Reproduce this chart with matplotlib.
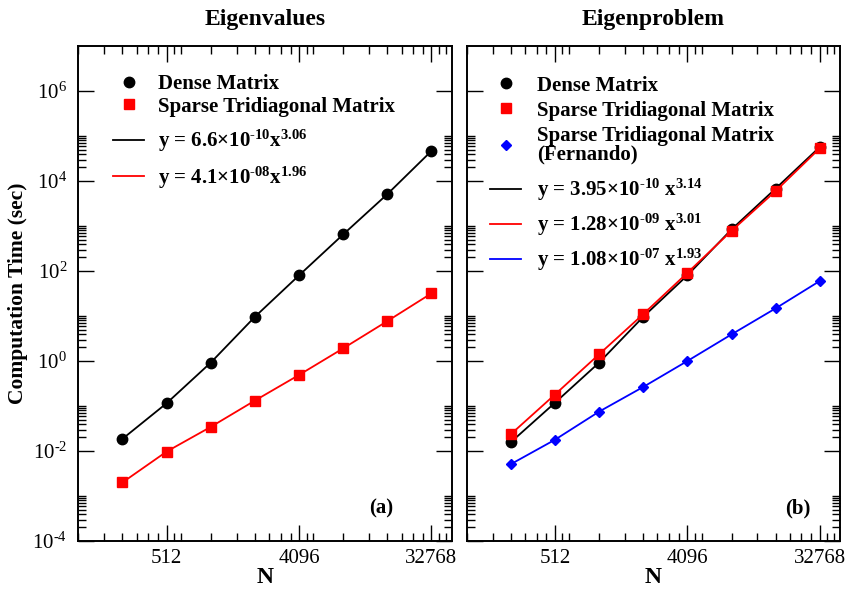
import numpy as np
import matplotlib
matplotlib.use("Agg")
import matplotlib.pyplot as plt
from matplotlib.lines import Line2D
from matplotlib.ticker import FixedLocator, NullFormatter, FixedFormatter

plt.rcParams['font.family'] = ['Liberation Serif', 'DejaVu Serif']
plt.rcParams['mathtext.fontset'] = 'custom'
plt.rcParams['mathtext.rm'] = 'Liberation Serif'
plt.rcParams['mathtext.bf'] = 'Liberation Serif:bold'
plt.rcParams['mathtext.default'] = 'regular'

# ---- data ----
N = [256, 512, 1024, 2048, 4096, 8192, 16384, 32768]

eigval_dense = [0.0186, 0.115, 0.92, 9.6, 80, 650, 5100, 46600]
eigval_sparse = [0.0020, 0.0097, 0.0343, 0.132, 0.49, 1.91, 7.7, 31.9]

eigprob_dense = [0.0157, 0.118, 0.92, 9.6, 80, 840, 6800, 57000]
eigprob_sparse = [0.0236, 0.18, 1.41, 11.0, 91, 780, 6000, 53500]
eigprob_fernando = [0.0051, 0.0178, 0.075, 0.265, 1.0, 3.9, 14.8, 60]

HY = '\u2010'  # short hyphen used in exponents
x_major = [512, 4096, 32768]
x_major_labels = ['512', '4096', '32768']
y_major = [1e-4, 1e-2, 1e0, 1e2, 1e4, 1e6]
y_major_labels = ['10$^{%s4}$' % HY, '10$^{%s2}$' % HY, r'10$^{0}$', r'10$^{2}$',
                  r'10$^{4}$', r'10$^{6}$']

titles = ['Eigenvalues', 'Eigenproblem']
panel_tags = ['(a)', '(b)']
marker_labels_a = ['Dense Matrix', 'Sparse Tridiagonal Matrix']
marker_labels_b = ['Dense Matrix', 'Sparse Tridiagonal Matrix',
                   'Sparse Tridiagonal Matrix\n(Fernando)']
fit_a = ['y = 6.6×10$^{%s10}$x$^{3.06}$' % HY, 'y = 4.1×10$^{%s08}$x$^{1.96}$' % HY]
fit_b = ['y = 3.95×10$^{%s10}$ x$^{3.14}$' % HY, 'y = 1.28×10$^{%s09}$ x$^{3.01}$' % HY,
         'y = 1.08×10$^{%s07}$ x$^{1.93}$' % HY]

XLIM = (128, 45000)
YLIM = (1e-4, 1e7)

W, H = 848, 590
fig = plt.figure(figsize=(W / 100, H / 100), dpi=100)
bottom = (H - 541) / H
height = (541 - 46) / H
ax1 = fig.add_axes([78.3 / W, bottom, (451.7 - 78.3) / W, height])
ax2 = fig.add_axes([466.7 / W, bottom, (840 - 466.7) / W, height])

FS = 15


def minor_list(majors, base, lo, hi):
    out = []
    for m in majors:
        for k in range(2, 11):
            v = m / base * k
            if lo <= v <= hi and all(abs(v - mm) / mm > 1e-9 for mm in majors):
                out.append(v)
    return out


def style(ax, title, tag, tagx):
    ax.set_xscale('log', base=2)
    ax.set_yscale('log')
    ax.set_xlim(*XLIM)
    ax.set_ylim(*YLIM)
    ax.xaxis.set_major_locator(FixedLocator(x_major))
    ax.xaxis.set_major_formatter(FixedFormatter(x_major_labels))
    ax.xaxis.set_minor_locator(FixedLocator(minor_list(x_major, 8, *XLIM)))
    ax.xaxis.set_minor_formatter(NullFormatter())
    ax.yaxis.set_major_locator(FixedLocator(y_major))
    ax.yaxis.set_minor_locator(FixedLocator(minor_list(y_major, 100, *YLIM)))
    ax.yaxis.set_minor_formatter(NullFormatter())
    ax.tick_params(which='both', direction='in', top=True, right=True, width=1.0,
                   labelsize=FS)
    ax.tick_params(which='major', length=11.3)
    ax.tick_params(which='minor', length=5.6)
    ax.tick_params(axis='x', which='major', pad=6)
    ax.tick_params(axis='y', which='major', pad=8)
    for s in ax.spines.values():
        s.set_linewidth(1.4)
    ax.set_title(title, fontsize=17, fontweight='bold', pad=15)
    ax.set_xlabel('N', fontsize=17, fontweight='bold', labelpad=-1)
    ax.text(tagx, 0.065, tag, transform=ax.transAxes, ha='right', va='center',
            fontsize=FS, fontweight='bold')


style(ax1, titles[0], panel_tags[0], 0.843)
style(ax2, titles[1], panel_tags[1], 0.92)
ax1.set_yticklabels(y_major_labels)
ax2.set_yticklabels([])
ax1.set_ylabel('Computation Time (sec)', fontsize=15.5, fontweight='bold')
ax1.yaxis.set_label_coords(-0.135, 0.5)

LW = 1.3
# panel a
ax1.plot(N, eigval_dense, color='black', lw=LW, marker='o', ms=7.5)
ax1.plot(N, eigval_sparse, color='red', lw=LW, marker='s', ms=6.5)
# panel b
ax2.plot(N, eigprob_dense, color='black', lw=LW, marker='o', ms=7.5)
ax2.plot(N, eigprob_fernando, color='blue', lw=LW, marker='D', ms=5)
ax2.plot(N, eigprob_sparse, color='red', lw=LW, marker='s', ms=6.5)

legprop = {'family': 'Liberation Serif', 'weight': 'bold', 'size': FS}
common = dict(frameon=False, prop=legprop, borderpad=0, borderaxespad=0,
              handlelength=1.5)

# panel a legends
hm_a = [Line2D([], [], color='black', marker='o', ms=7.5, ls='none'),
        Line2D([], [], color='red', marker='s', ms=6.5, ls='none')]
leg1 = ax1.legend(hm_a, marker_labels_a, loc='center left',
                  bbox_to_anchor=(0.093, 0.9), handletextpad=0.65,
                  labelspacing=0.12, **common)
ax1.add_artist(leg1)
hl_a = [Line2D([], [], color='black', lw=LW), Line2D([], [], color='red', lw=LW)]
ax1.legend(hl_a, fit_a, loc='center left', bbox_to_anchor=(0.093, 0.771),
           handletextpad=0.65, labelspacing=0.5, **common)

# panel b legends
hm_b = [Line2D([], [], color='black', marker='o', ms=7.5, ls='none'),
        Line2D([], [], color='red', marker='s', ms=6.5, ls='none'),
        Line2D([], [], color='blue', marker='D', ms=5, ls='none')]
leg2 = ax2.legend(hm_b, marker_labels_b, loc='center left',
                  bbox_to_anchor=(0.0624, 0.85), handletextpad=0.75,
                  labelspacing=0.24, **common)
for t in leg2.get_texts():
    t.set_linespacing(0.95)
ax2.add_artist(leg2)
hl_b = [Line2D([], [], color='black', lw=LW), Line2D([], [], color='red', lw=LW),
        Line2D([], [], color='blue', lw=LW)]
ax2.legend(hl_b, fit_b, loc='center left', bbox_to_anchor=(0.0624, 0.638),
           handletextpad=0.75, labelspacing=0.42, **common)

fig.savefig('out.png', dpi=100)
